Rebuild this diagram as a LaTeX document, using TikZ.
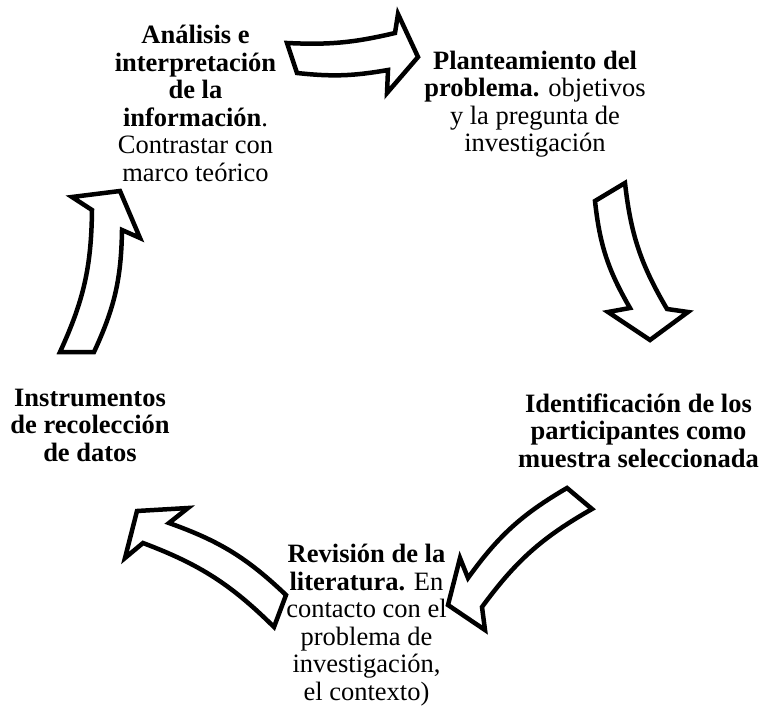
\documentclass[tikz,border=0pt]{standalone}
\usepackage{fontspec}
\setmainfont{Liberation Serif}
\tikzset{
  txt/.style={align=center, inner sep=0pt, anchor=base, font=\fontsize{26.5}{27.5}\selectfont},
  cyclearrow/.style={draw=black, fill=white, line width=4.5pt, line join=miter}
}
\begin{document}
\begin{tikzpicture}[x=1pt, y=-1pt]
        \useasboundingbox (0,0) rectangle (762,706);
        \node[txt] (analisis) at (195.5,181) {\textbf{Análisis e}\\\textbf{interpretación}\\\textbf{de la}\\\textbf{información}.\\Contrastar con\\marco teórico};
        \node[txt] (planteamiento) at (535,151.5) {\textbf{Planteamiento del}\\\textbf{problema.} objetivos\\y la pregunta de\\investigación};
        \node[txt] (identificacion) at (638.5,467) {\textbf{Identificación de los}\\\textbf{participantes como}\\\textbf{muestra seleccionada}};
        \node[txt] (revision) at (366.5,700) {\textbf{Revisión de la}\\\textbf{literatura.} En\\contacto con el\\problema de\\investigación,\\el contexto)};
        \node[txt] (instrumentos) at (90,461) {\textbf{Instrumentos}\\\textbf{de recolección}\\\textbf{de datos}};
        \draw[cyclearrow] (287,43) to[bend right=8] (395,33) -- (398,14) -- (418,57) -- (387,93) -- (388,70) to[bend left=8] (297,73) -- cycle;
        \draw[cyclearrow] (625,183) to[bend right=12] (667,309) -- (688,312) -- (650,340) -- (608,312) -- (630,308) to[bend left=12] (595,201) -- cycle;
        \draw[cyclearrow] (592,509) to[bend right=12] (482,607) -- (485,630) -- (448,605) -- (460,558) -- (468,578) to[bend left=12] (567,488) -- cycle;
        \draw[cyclearrow] (274,627) to[bend right=12] (143,543) -- (125,558) -- (137,511) -- (188,508) -- (169,523) to[bend left=12] (286,595) -- cycle;
        \draw[cyclearrow] (60,352) to[bend right=12] (92,210) -- (72,197) -- (120,191) -- (140,238) -- (122,230) to[bend left=12] (94,352) -- cycle;
\end{tikzpicture}
\end{document}
